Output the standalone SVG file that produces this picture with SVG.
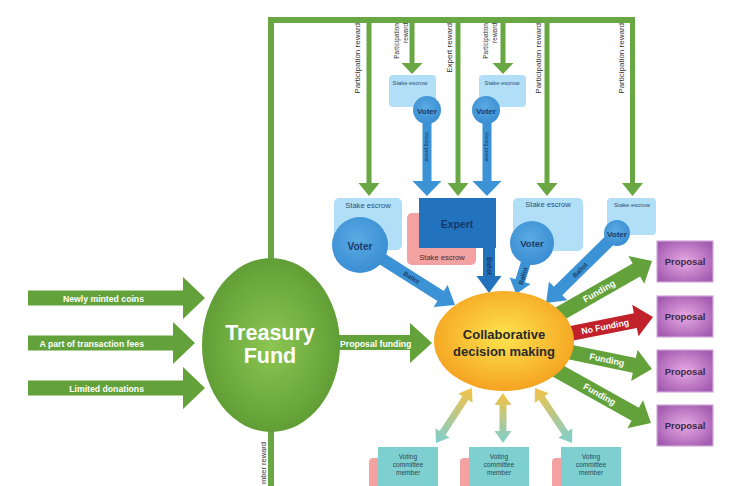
<svg xmlns="http://www.w3.org/2000/svg" width="741" height="486" viewBox="0 0 741 486">
<style>
text{font-family:"Liberation Sans",Arial,sans-serif}
.g{fill:#63a23b}
.gl{fill:#68a744}
.red{fill:#c1212b}
.blue{fill:#3b93d6}
.dblue{fill:#2372bd}
.wt{fill:#fff;font-weight:bold;font-size:8.7px}
.ft{fill:#fff;font-weight:bold;font-size:9px}
.rw{fill:#333;font-size:8px}
.rw2{fill:#333;font-size:6.5px}
.se{fill:#b1dff7}
.set{fill:#2d5077}
.vt{fill:#1c3c6a;font-weight:bold}
.pk{fill:#f3a1a1}
.tl{fill:#7ecfcf}
.ct{fill:#2c4a55;font-size:6.6px}
.prop{fill:url(#gProp);stroke:#d3a8db;stroke-width:1.2}
.pt{fill:#3b2a48;font-size:9.5px;font-weight:bold}
.bt{fill:#1c3c6a;font-size:6.5px;font-weight:bold}
.dbl{fill:url(#gDbl)}
</style>
<defs>
<radialGradient id="gTreas" cx="50%" cy="50%" r="55%">
<stop offset="0" stop-color="#8cc653"/><stop offset="1" stop-color="#5c9b33"/>
</radialGradient>
<radialGradient id="gCollab" cx="50%" cy="45%" r="55%">
<stop offset="0" stop-color="#fde44e"/><stop offset="1" stop-color="#f5a321"/>
</radialGradient>
<radialGradient id="gProp" cx="50%" cy="50%" r="60%">
<stop offset="0" stop-color="#e7a9e2"/><stop offset="1" stop-color="#a45cb1"/>
</radialGradient>
<radialGradient id="gVoter" cx="45%" cy="40%" r="60%">
<stop offset="0" stop-color="#5aaae3"/><stop offset="1" stop-color="#3a8ed2"/>
</radialGradient>
<linearGradient id="gDbl" x1="0" y1="0" x2="1" y2="0">
<stop offset="0" stop-color="#7ccfd0"/><stop offset="1" stop-color="#f7c244"/>
</linearGradient>
</defs>

<g id="connectors">
<rect class="gl" x="268" y="17" width="367" height="6"/>
<rect class="gl" x="268" y="17" width="6" height="250"/>
<rect class="gl" x="268" y="425" width="6" height="61"/>
<rect class="gl" x="366.5" y="20" width="5" height="164"/>
<polygon class="gl" points="358.5,183 379.5,183 369,196"/>
<rect class="gl" x="409.5" y="20" width="5" height="44"/>
<polygon class="gl" points="401.5,63 422.5,63 412,74"/>
<rect class="gl" x="455.5" y="20" width="5" height="164"/>
<polygon class="gl" points="447.5,183 468.5,183 458,196"/>
<rect class="gl" x="500.5" y="20" width="5" height="44"/>
<polygon class="gl" points="492.5,63 513.5,63 503,74"/>
<rect class="gl" x="544.5" y="20" width="5" height="164"/>
<polygon class="gl" points="536.5,183 557.5,183 547,196"/>
<rect class="gl" x="630" y="20" width="5" height="164"/>
<polygon class="gl" points="622,183 643,183 632.5,196"/>
<text class="rw" transform="translate(360,23) rotate(-90)" text-anchor="end">Participation reward</text>
<text class="rw2" transform="translate(399,23) rotate(-90)" text-anchor="end">Participation</text>
<text class="rw2" transform="translate(407.5,23) rotate(-90)" text-anchor="end">reward</text>
<text class="rw" transform="translate(451.5,23) rotate(-90)" text-anchor="end">Expert reward</text>
<text class="rw2" transform="translate(488,23) rotate(-90)" text-anchor="end">Participation</text>
<text class="rw2" transform="translate(496.5,23) rotate(-90)" text-anchor="end">reward</text>
<text class="rw" transform="translate(541,23) rotate(-90)" text-anchor="end">Participation reward</text>
<text class="rw" transform="translate(624,23) rotate(-90)" text-anchor="end">Participation reward</text>
<text class="rw" style="font-size:7.5px" transform="translate(266,442) rotate(-90)" text-anchor="end">mber reward</text>

<rect class="blue" x="422.5" y="110" width="9" height="71"/>
<polygon class="blue" points="412.5,181 441.5,181 427,196"/>
<rect class="blue" x="482.5" y="110" width="9" height="71"/>
<polygon class="blue" points="472.5,181 501.5,181 487,196"/>
<text class="bt" style="font-size:5.2px;font-weight:normal" transform="translate(425.3,147) rotate(90)" text-anchor="middle">Voting power</text>
<text class="bt" style="font-size:5.2px;font-weight:normal" transform="translate(485.3,147) rotate(90)" text-anchor="middle">Voting power</text>

<path class="blue" transform="translate(360,245) rotate(32.3)" d="M0,-6 H95.4 V-13 L112.4,0 L95.4,13 V6 H0 Z"/>
<text class="bt" transform="translate(360,245) rotate(32.3)" x="61" y="2.3" text-anchor="middle">Ballot</text>
<path class="dblue" transform="translate(489,240) rotate(90)" d="M0,-6 H36 V-12.5 L53,0 L36,12.5 V6 H0 Z"/>
<text class="bt" transform="translate(486.7,266) rotate(90)" text-anchor="middle">Ballot</text>
<path class="blue" transform="translate(532,243) rotate(107.4)" d="M0,-5 H39.5 V-11 L53.5,0 L39.5,11 V5 H0 Z"/>
<text class="bt" transform="translate(523,276) rotate(-72.6)" y="2.3" text-anchor="middle">Ballot</text>
<path class="blue" transform="translate(617,233) rotate(135.4)" d="M0,-6 H82.7 V-13 L99.7,0 L82.7,13 V6 H0 Z"/>
<text class="bt" transform="translate(580,270) rotate(-44.6)" y="2.3" text-anchor="middle">Ballot</text>

<path class="g" d="M28,290.5 H183 V277 L205,298 L183,319 V305.5 H28 Z"/>
<text class="wt" x="144" y="301.5" text-anchor="end">Newly minted coins</text>
<path class="g" d="M28,335.5 H173 V322 L195,343 L173,364 V350.5 H28 Z"/>
<text class="wt" x="144" y="346.5" text-anchor="end">A part of transaction fees</text>
<path class="g" d="M28,380.5 H183 V367 L205,388 L183,409 V395.5 H28 Z"/>
<text class="wt" x="144" y="391.5" text-anchor="end">Limited donations</text>

<path class="g" d="M330,335 H410 V323 L432,343 L410,363 V350 H330 Z"/>
<text class="wt" x="340" y="346.5">Proposal funding</text>

<path class="g" transform="translate(547,321) rotate(-29.74)" d="M0,-7.5 H102.9 V-16 L120.9,0 L102.9,16 V7.5 H0 Z"/>
<text class="ft" transform="translate(547,321) rotate(-29.74)" x="60" y="3.1" text-anchor="middle">Funding</text>
<path class="red" transform="translate(558,336) rotate(-11.31)" d="M0,-7.5 H78.9 V-16 L96.9,0 L78.9,16 V7.5 H0 Z"/>
<text class="ft" style="font-size:8.7px" transform="translate(558,336) rotate(-11.31)" x="48" y="3.1" text-anchor="middle">No Funding</text>
<path class="g" transform="translate(560,350) rotate(11.67)" d="M0,-7.5 H75.9 V-16 L93.9,0 L75.9,16 V7.5 H0 Z"/>
<text class="ft" transform="translate(560,350) rotate(11.67)" x="48" y="3.1" text-anchor="middle">Funding</text>
<path class="g" transform="translate(549,366) rotate(29.2)" d="M0,-7.5 H98.8 V-16 L116.8,0 L98.8,16 V7.5 H0 Z"/>
<text class="ft" transform="translate(549,366) rotate(29.2)" x="58" y="3.1" text-anchor="middle">Funding</text>

<path class="dbl" transform="translate(436,443) rotate(-56.8)" d="M0,0 L12,-8.5 L12,-3.5 L53.7,-3.5 L53.7,-8.5 L65.7,0 L53.7,8.5 L53.7,3.5 L12,3.5 L12,8.5 Z"/>
<path class="dbl" transform="translate(503,443) rotate(-90)" d="M0,0 L12,-8.5 L12,-3.5 L38,-3.5 L38,-8.5 L50,0 L38,8.5 L38,3.5 L12,3.5 L12,8.5 Z"/>
<path class="dbl" transform="translate(572,443) rotate(-123.9)" d="M0,0 L12,-8.5 L12,-3.5 L54.3,-3.5 L54.3,-8.5 L66.3,0 L54.3,8.5 L54.3,3.5 L12,3.5 L12,8.5 Z"/>
</g>

<g id="treasury">
<ellipse cx="271" cy="345" rx="69" ry="87" fill="url(#gTreas)"/>
<text x="270" y="340" text-anchor="middle" fill="#fff" font-weight="bold" font-size="21.5">Treasury</text>
<text x="270" y="363" text-anchor="middle" fill="#fff" font-weight="bold" font-size="21.5">Fund</text>
</g>

<g id="collaborative">
<ellipse cx="504" cy="341" rx="70" ry="50" fill="url(#gCollab)"/>
<text x="504" y="339" text-anchor="middle" fill="#2a2a2a" font-weight="bold" font-size="13">Collaborative</text>
<text x="504" y="356" text-anchor="middle" fill="#2a2a2a" font-weight="bold" font-size="13">decision making</text>
</g>

<g id="voter-a">
<rect class="se" x="389" y="75" width="47" height="32" rx="4"/>
<text class="set" x="410" y="85" text-anchor="middle" font-size="5.8">Stake escrow</text>
<circle cx="427" cy="110" r="14" fill="url(#gVoter)"/>
<text class="vt" x="427" y="113.5" text-anchor="middle" font-size="8">Voter</text>
</g>

<g id="voter-b">
<rect class="se" x="479" y="75" width="47" height="32" rx="4"/>
<text class="set" x="502" y="85" text-anchor="middle" font-size="5.8">Stake escrow</text>
<circle cx="486" cy="110" r="14" fill="url(#gVoter)"/>
<text class="vt" x="486" y="113.5" text-anchor="middle" font-size="8">Voter</text>
</g>

<g id="voter-1">
<rect class="se" x="334" y="198" width="68" height="52" rx="5"/>
<text class="set" x="368" y="207.5" text-anchor="middle" font-size="7.6">Stake escrow</text>
<circle cx="360" cy="245" r="28" fill="url(#gVoter)"/>
<text class="vt" x="360" y="249.5" text-anchor="middle" font-size="10">Voter</text>
</g>

<g id="expert">
<rect class="pk" x="407" y="213" width="69" height="52" rx="5"/>
<text x="442" y="260" text-anchor="middle" font-size="7.6" fill="#4a2a2a">Stake escrow</text>
<rect x="419" y="198" width="77" height="50" fill="#2372bd"/>
<text x="457" y="228" text-anchor="middle" font-size="10.5" font-weight="bold" fill="#123a6b">Expert</text>
</g>

<g id="voter-3">
<rect class="se" x="513" y="198" width="70" height="53" rx="5"/>
<text class="set" x="548" y="207" text-anchor="middle" font-size="7.6">Stake escrow</text>
<circle cx="532" cy="243" r="22" fill="url(#gVoter)"/>
<text class="vt" x="532" y="246.5" text-anchor="middle" font-size="9.5">Voter</text>
</g>

<g id="voter-4">
<rect class="se" x="607" y="198" width="49" height="37" rx="4"/>
<text class="set" x="632" y="206.5" text-anchor="middle" font-size="6">Stake escrow</text>
<circle cx="617" cy="233" r="13" fill="url(#gVoter)"/>
<text class="vt" x="617" y="236.5" text-anchor="middle" font-size="8">Voter</text>
</g>

<g id="proposal-1">
<rect class="prop" x="657" y="241" width="56" height="41"/>
<text class="pt" x="685" y="265" text-anchor="middle">Proposal</text>
</g>
<g id="proposal-2">
<rect class="prop" x="657" y="296" width="56" height="41"/>
<text class="pt" x="685" y="320" text-anchor="middle">Proposal</text>
</g>
<g id="proposal-3">
<rect class="prop" x="657" y="350" width="56" height="42"/>
<text class="pt" x="685" y="374.5" text-anchor="middle">Proposal</text>
</g>
<g id="proposal-4">
<rect class="prop" x="657" y="405" width="56" height="41"/>
<text class="pt" x="685" y="429" text-anchor="middle">Proposal</text>
</g>

<g id="committee-1">
<rect class="pk" x="369" y="458" width="30" height="40" rx="4"/>
<rect class="tl" x="378" y="447" width="60" height="45"/>
<text class="ct" x="408" y="459" text-anchor="middle">Voting</text>
<text class="ct" x="408" y="467" text-anchor="middle">committee</text>
<text class="ct" x="408" y="475" text-anchor="middle">member</text>
</g>
<g id="committee-2">
<rect class="pk" x="460" y="458" width="30" height="40" rx="4"/>
<rect class="tl" x="469" y="447" width="60" height="45"/>
<text class="ct" x="499" y="459" text-anchor="middle">Voting</text>
<text class="ct" x="499" y="467" text-anchor="middle">committee</text>
<text class="ct" x="499" y="475" text-anchor="middle">member</text>
</g>
<g id="committee-3">
<rect class="pk" x="552" y="458" width="30" height="40" rx="4"/>
<rect class="tl" x="561" y="447" width="60" height="45"/>
<text class="ct" x="591" y="459" text-anchor="middle">Voting</text>
<text class="ct" x="591" y="467" text-anchor="middle">committee</text>
<text class="ct" x="591" y="475" text-anchor="middle">member</text>
</g>
</svg>
